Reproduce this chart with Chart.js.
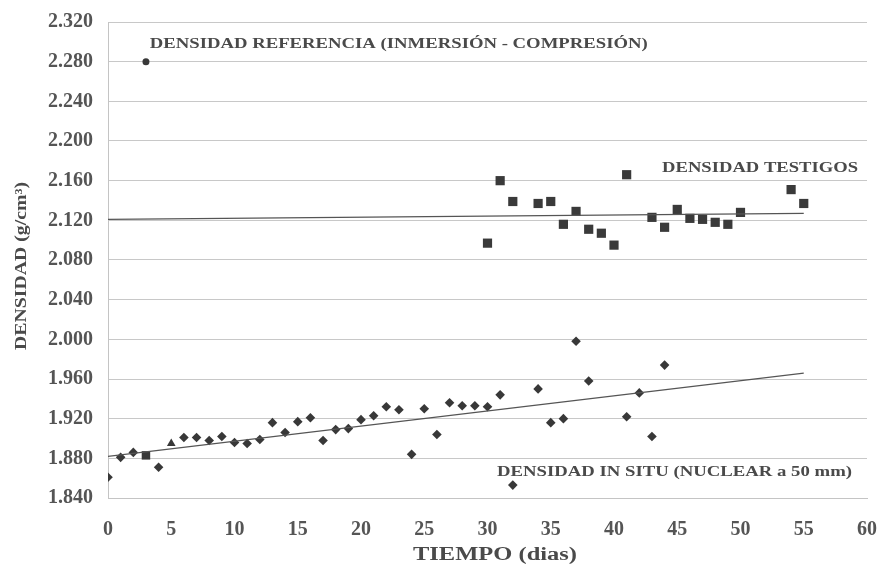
<!DOCTYPE html>
<html>
<head>
<meta charset="utf-8">
<script src="https://cdn.jsdelivr.net/npm/chart.js@4/dist/chart.umd.min.js"></script>
<style>
  html, body { margin: 0; padding: 0; background: #fff; }
  #wrap { width: 878px; height: 568px; }
</style>
</head>
<body>
<div id="wrap"><canvas id="c"></canvas></div>
<script>
// Densidad in situ (nuclear a 50 mm), por día
const diasInSitu = [0, 1, 2, 3, 4, 5, 6, 7, 8, 9, 10, 11, 12, 13, 14, 15, 16, 17, 18, 19, 20,
  21, 22, 23, 24, 25, 26, 27, 28, 29, 30, 31, 32, 34, 35, 36, 37, 38, 41, 42, 43, 44];
const densidadInSitu = [1.861, 1.881, 1.886, 1.883, 1.871, 1.895, 1.901, 1.901, 1.898, 1.902, 1.896,
  1.895, 1.899, 1.916, 1.906, 1.917, 1.921, 1.898, 1.909, 1.910, 1.919, 1.923, 1.932, 1.929, 1.884,
  1.930, 1.904, 1.936, 1.933, 1.933, 1.932, 1.944, 1.853, 1.950, 1.916, 1.920, 1.998, 1.958, 1.922,
  1.946, 1.902, 1.974];

// Densidad de testigos
const diasTestigos = [30, 31, 32, 34, 35, 36, 37, 38, 39, 40, 41, 43, 44, 45, 46, 47, 48, 49, 50, 54, 55];
const densidadTestigos = [2.097, 2.160, 2.139, 2.137, 2.139, 2.116, 2.129, 2.111, 2.107, 2.095, 2.166,
  2.123, 2.113, 2.131, 2.122, 2.121, 2.118, 2.116, 2.128, 2.151, 2.137];

// Densidad de referencia (inmersión - compresión)
const diasReferencia = [3];
const densidadReferencia = [2.280];

// Rectas de tendencia (extremos)
const tendInSituDias = [0, 55];
const tendInSituValores = [1.882, 1.966];
const tendTestigosDias = [0, 55];
const tendTestigosValores = [2.121, 2.127];

// Marcas de los ejes
const ticksY = [1.840, 1.880, 1.920, 1.960, 2.000, 2.040, 2.080, 2.120, 2.160, 2.200, 2.240, 2.280, 2.320];
const ticksX = [0, 5, 10, 15, 20, 25, 30, 35, 40, 45, 50, 55, 60];

const pares = (xs, ys) => xs.map((x, i) => ({ x: x, y: ys[i] }));

// Día 3 y día 5 llevan un símbolo distinto en la serie in situ
const estilosInSitu = diasInSitu.map(d => d === 3 ? 'rect' : (d === 5 ? 'triangle' : 'rectRot'));
const radiosInSitu = diasInSitu.map(d => d === 3 ? 6 : (d === 5 ? 5 : 4.8));

const SERIF = '"Liberation Serif", "DejaVu Serif", serif';
const MARCA = '#383838';

// Rótulos dentro del gráfico y títulos de los ejes
const rotulos = {
  id: 'rotulos',
  afterDatasetsDraw(chart) {
    const { ctx, scales: { x, y } } = chart;
    ctx.save();
    ctx.fillStyle = '#4a4a4a';
    ctx.textBaseline = 'middle';
    const texto = (t, px, py, size, ancho, align, giro) => {
      ctx.font = 'bold ' + size + 'px ' + SERIF;
      const w = ctx.measureText(t).width;
      const k = ancho / w;
      ctx.save();
      ctx.translate(px, py);
      if (giro) ctx.rotate(giro);
      ctx.scale(k, 1);
      ctx.textAlign = align || 'left';
      ctx.fillText(t, 0, 0);
      ctx.restore();
    };
    texto('DENSIDAD REFERENCIA (INMERSIÓN - COMPRESIÓN)', x.getPixelForValue(3.3), y.getPixelForValue(2.297), 14, 498);
    texto('DENSIDAD TESTIGOS', x.getPixelForValue(43.8), y.getPixelForValue(2.172), 14, 196);
    texto('DENSIDAD IN SITU (NUCLEAR a 50 mm)', x.getPixelForValue(30.75), y.getPixelForValue(1.866), 14, 355);

    // título eje X
    texto('TIEMPO (dias)', 495, 555, 18, 164, 'center');
    // título eje Y
    texto('DENSIDAD (g/cm³)', 22, 266, 16, 168, 'center', -Math.PI / 2);
    ctx.restore();
  }
};

new Chart(document.getElementById('c'), {
  type: 'scatter',
  data: {
    datasets: [
      {
        label: 'Tendencia testigos',
        data: pares(tendTestigosDias, tendTestigosValores),
        showLine: true, borderColor: '#555', borderWidth: 1.3, pointRadius: 0
      },
      {
        label: 'Tendencia in situ',
        data: pares(tendInSituDias, tendInSituValores),
        showLine: true, borderColor: '#555', borderWidth: 1.3, pointRadius: 0
      },
      {
        label: 'Densidad in situ',
        data: pares(diasInSitu, densidadInSitu),
        pointStyle: estilosInSitu, pointRadius: radiosInSitu,
        backgroundColor: MARCA, borderColor: MARCA, borderWidth: 0
      },
      {
        label: 'Densidad testigos',
        data: pares(diasTestigos, densidadTestigos),
        pointStyle: 'rect', pointRadius: 6.5,
        backgroundColor: '#3a3a3a', borderColor: '#3a3a3a', borderWidth: 0
      },
      {
        label: 'Densidad referencia',
        data: pares(diasReferencia, densidadReferencia),
        pointStyle: 'circle', pointRadius: 3.5,
        backgroundColor: MARCA, borderColor: MARCA, borderWidth: 0
      }
    ]
  },
  options: {
    responsive: true,
    maintainAspectRatio: false,
    animation: false,
    layout: { padding: { top: 22, right: 11, bottom: 0, left: 0 } },
    plugins: { legend: { display: false }, tooltip: { enabled: false } },
    scales: {
      x: {
        type: 'linear', min: 0, max: 60,
        afterBuildTicks: s => { s.ticks = ticksX.map(v => ({ value: v })); },
        afterFit: s => { s.height = 70; s.paddingLeft = 0; s.paddingRight = 0; },
        grid: { display: false, drawTicks: false },
        border: { display: true, color: '#c4c4c4', width: 1 },
        ticks: {
          padding: 20, color: '#555',
          font: { family: SERIF, size: 20, weight: 'bold' },
          callback: v => String(v)
        }
      },
      y: {
        type: 'linear', min: 1.84, max: 2.32,
        afterBuildTicks: s => { s.ticks = ticksY.map(v => ({ value: v })); },
        afterFit: s => { s.width = 108; s.paddingTop = 0; s.paddingBottom = 0; },
        grid: { color: '#c8c8c8', lineWidth: 1, drawTicks: false },
        border: { display: true, color: '#c4c4c4', width: 1 },
        ticks: {
          padding: 15, color: '#555',
          font: { family: SERIF, size: 20, weight: 'bold' },
          callback: v => Number(v).toFixed(3)
        }
      }
    }
  },
  plugins: [rotulos]
});
</script>
</body>
</html>
